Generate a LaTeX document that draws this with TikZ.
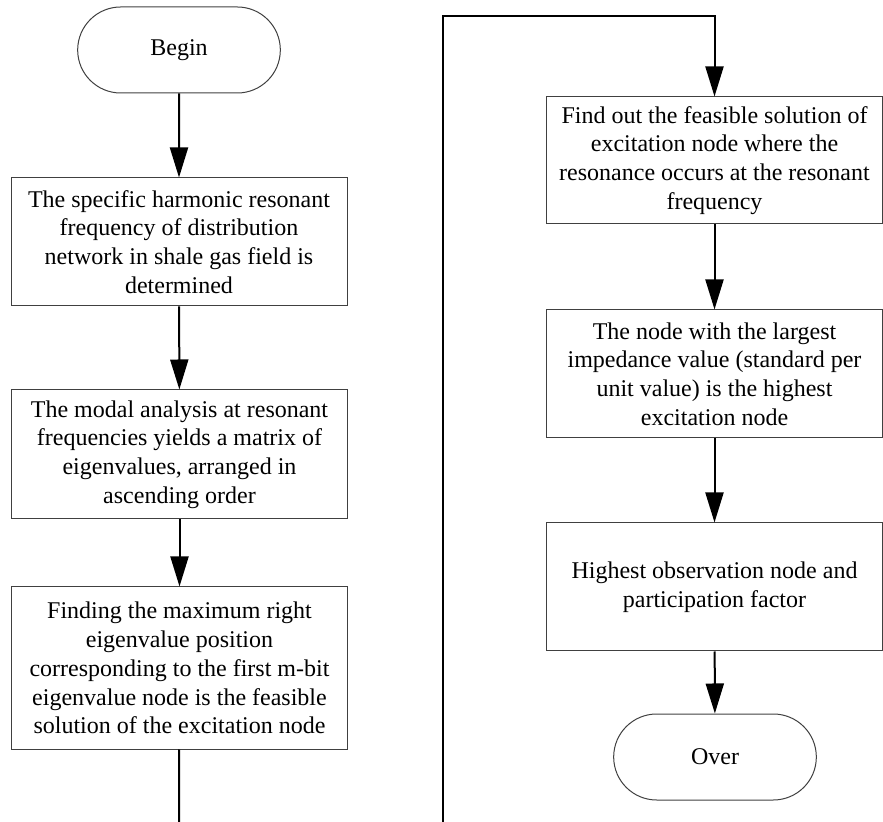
\documentclass[tikz,border=0pt]{standalone}
\usepackage{fontspec}
\setmainfont{Liberation Serif}
\usepackage{tikz}
\usetikzlibrary{arrows.meta}
\usetikzlibrary{shapes.misc}

\begin{document}
\begin{tikzpicture}[x=0.5pt, y=-0.5pt,
    font=\fontsize{12}{14.4}\selectfont,
    stepbox/.style={draw=black!75, line width=0.5pt, align=center,
      minimum width=168pt, inner sep=2pt},
    endcap/.style={draw=black!75, line width=0.5pt, rounded rectangle,
      minimum width=108pt, minimum height=43pt},
    flow/.style={line width=1pt, -{Triangle[length=15pt, width=9pt]}}]
  \useasboundingbox (0,0) rectangle (883,822);
  % left column: start and the first three steps
  \node[endcap] (begin) at (179,50) {Begin};
  \node[stepbox, minimum height=64pt] (spec) at (179,242)
    {The specific harmonic resonant\\frequency of distribution\\network in
     shale gas field is\\determined};
  \node[stepbox, minimum height=64.5pt] (modal) at (179.5,454.5)
    {The modal analysis at resonant\\frequencies yields a matrix of\\eigenvalues,
     arranged in\\ascending order};
  \node[stepbox, minimum height=81pt] (maxeig) at (179.5,668)
    {Finding the maximum right\\eigenvalue position\\corresponding to the
     first m-bit\\eigenvalue node is the feasible\\solution of the excitation node};
  % right column: the remaining steps and the end
  \node[stepbox, minimum height=63.5pt] (feas) at (714.5,160.5)
    {Find out the feasible solution of\\excitation node where the\\resonance
     occurs at the resonant\\frequency};
  \node[stepbox, minimum height=64pt] (imped) at (714.5,374)
    {The node with the largest\\impedance value (standard per\\unit value)
     is the highest\\excitation node};
  \node[stepbox, minimum height=64pt] (observ) at (714.5,587)
    {Highest observation node and\\participation factor};
  \node[endcap] (over) at (715,757) {Over};
  % free ends where the flow leaves the left column and comes back
  \coordinate (leftout) at (179,824);
  \coordinate (rightin) at (443,824);
  \coordinate (toprun) at (feas.north |- 0,16);
  % ---------- connectors ----------
  \draw[flow] (begin) -- (spec);
  \draw[flow] (spec) -- (modal);
  \draw[flow] (modal) -- (maxeig);
  \draw[line width=1pt] (maxeig) -- (leftout);
  \draw[flow] (rightin) |- (toprun) -- (feas);
  \draw[flow] (feas) -- (imped);
  \draw[flow] (imped) -- (observ);
  \draw[flow] (observ) -- (over);
\end{tikzpicture}
\end{document}
